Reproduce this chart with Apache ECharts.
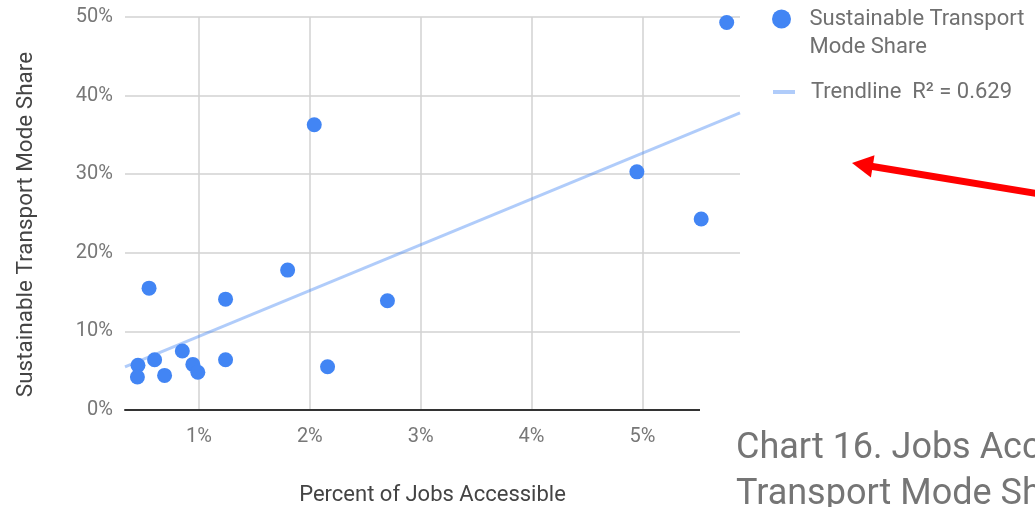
<!DOCTYPE html>
<html>
<head>
<meta charset="utf-8">
<script src="https://cdn.jsdelivr.net/npm/echarts@6/dist/echarts.min.js"></script>
<style>
  html, body { margin: 0; padding: 0; background: #fff; }
  #chart { width: 1035px; height: 507px; }
</style>
</head>
<body>
<div id="chart"></div>
<script>
// Percent of jobs accessible, one value per area
const jobsAccessible = [0.55, 1.24, 1.80, 2.70, 0.45, 0.445, 0.60, 0.69, 0.85, 0.945, 0.99, 1.24, 2.16, 5.76, 4.95, 5.53, 2.04];
// Sustainable transport mode share (%), same areas in the same order
const modeShare = [15.5, 14.1, 17.8, 13.9, 5.7, 4.2, 6.4, 4.4, 7.5, 5.8, 4.8, 6.4, 5.5, 49.3, 30.3, 24.3, 36.3];

// Axis ticks
const xTickValues = [1, 2, 3, 4, 5];
const yTickValues = [0, 10, 20, 30, 40, 50];

// Labels
const scatterName = 'Sustainable Transport Mode Share';
const scatterLegendLines = ['Sustainable Transport', 'Mode Share'];
const trendName = 'Trendline  R\u00B2 = 0.629';
const xAxisTitle = 'Percent of Jobs Accessible';
const yAxisTitle = 'Sustainable Transport Mode Share';
const chartTitle = 'Chart 16. Jobs Accessible vs. Sustainable\nTransport Mode Share';

// Horizontal extent of the plot
const xMin = 0.333;
const xMax = 5.88;

// Least-squares trendline through the points
function linearFit(xs, ys) {
  const n = xs.length;
  const mx = xs.reduce((a, b) => a + b, 0) / n;
  const my = ys.reduce((a, b) => a + b, 0) / n;
  let sxy = 0, sxx = 0;
  for (let i = 0; i < n; i++) {
    sxy += (xs[i] - mx) * (ys[i] - my);
    sxx += (xs[i] - mx) * (xs[i] - mx);
  }
  const slope = sxy / sxx;
  return { slope, intercept: my - slope * mx };
}
const fit = linearFit(jobsAccessible, modeShare);
const trendPoints = [xMin, xMax].map(x => [x, fit.intercept + fit.slope * x]);

const scatterPoints = jobsAccessible.map((x, i) => [x, modeShare[i]]);

const FONT = 'Roboto, "Noto Sans", sans-serif';
const BLUE = '#4285f4';
const TREND = 'rgba(66,133,244,0.42)';

const chart = echarts.init(document.getElementById('chart'), null, { renderer: 'canvas' });

chart.setOption({
  animation: false,
  backgroundColor: '#ffffff',
  textStyle: { fontFamily: FONT },
  title: {
    text: chartTitle,
    left: 731,
    top: 421,
    z: 20,
    textStyle: { fontFamily: FONT, fontSize: 36, fontWeight: 'normal', color: '#757575', lineHeight: 46 }
  },
  grid: { left: 125, right: 295, top: 17, bottom: 97, containLabel: false, outerBoundsMode: 'none' },
  legend: [
    {
      data: [scatterName],
      orient: 'vertical',
      left: 772,
      top: -23,
      padding: 0,
      itemWidth: 22,
      itemHeight: 19,
      icon: 'circle',
      selectedMode: false,
      // leading blank line keeps the marker level with the first text line
      formatter: () => '\n' + scatterLegendLines.join('\n'),
      textStyle: { fontFamily: FONT, fontSize: 22, color: '#707070', lineHeight: 28, padding: [0, 0, 0, 12] }
    },
    {
      data: [trendName],
      orient: 'vertical',
      left: 773,
      top: 78,
      padding: 0,
      itemWidth: 22,
      itemHeight: 4,
      icon: 'rect',
      selectedMode: false,
      textStyle: { fontFamily: FONT, fontSize: 22, color: '#707070', lineHeight: 28, padding: [0, 0, 0, 11] }
    }
  ],
  xAxis: {
    type: 'value',
    min: xMin,
    max: xMax,
    name: xAxisTitle,
    nameLocation: 'middle',
    nameGap: 74,
    nameTextStyle: { fontFamily: FONT, fontSize: 22, color: '#444444' },
    axisLine: { show: true, onZero: false, lineStyle: { color: '#333333', width: 2 } },
    axisTick: { show: false, customValues: xTickValues },
    axisLabel: {
      customValues: xTickValues,
      formatter: v => v + '%',
      fontFamily: FONT, fontSize: 20, color: '#777777', margin: 17
    },
    splitLine: { show: true, lineStyle: { color: '#d2d2d2', width: 1.5 } }
  },
  yAxis: {
    type: 'value',
    min: yTickValues[0],
    max: yTickValues[yTickValues.length - 1],
    interval: 10,
    name: yAxisTitle,
    nameLocation: 'middle',
    nameRotate: 90,
    nameGap: 87,
    nameTextStyle: { fontFamily: FONT, fontSize: 22.5, color: '#444444', padding: [0, 22, 0, 0] },
    axisLine: { show: false },
    axisTick: { show: false },
    axisLabel: { formatter: v => v + '%', fontFamily: FONT, fontSize: 20, color: '#777777', margin: 12 },
    splitLine: { show: true, lineStyle: { color: '#d2d2d2', width: 1.5 } }
  },
  series: [
    {
      name: trendName,
      type: 'line',
      data: trendPoints,
      symbol: 'none',
      silent: true,
      z: 2,
      lineStyle: { color: TREND, width: 3 },
      itemStyle: { color: TREND }
    },
    {
      name: scatterName,
      type: 'scatter',
      data: scatterPoints,
      symbol: 'circle',
      symbolSize: 15,
      z: 3,
      itemStyle: { color: BLUE, opacity: 1 }
    }
  ],
  graphic: [
    // white caption panel in the lower right
    {
      type: 'rect',
      left: 700,
      top: 382,
      z: 10,
      shape: { width: 335, height: 125 },
      style: { fill: '#ffffff' }
    },
    // red pointer arrow
    {
      type: 'group',
      z: 30,
      children: [
        {
          type: 'line',
          shape: { x1: 1040, y1: 194, x2: 868, y2: 165.8 },
          style: { stroke: '#ff0000', lineWidth: 7 }
        },
        {
          type: 'polygon',
          shape: { points: [[852, 163], [874.5, 155.2], [870.9, 177.5]] },
          style: { fill: '#ff0000' }
        }
      ]
    }
  ]
});
</script>
</body>
</html>
